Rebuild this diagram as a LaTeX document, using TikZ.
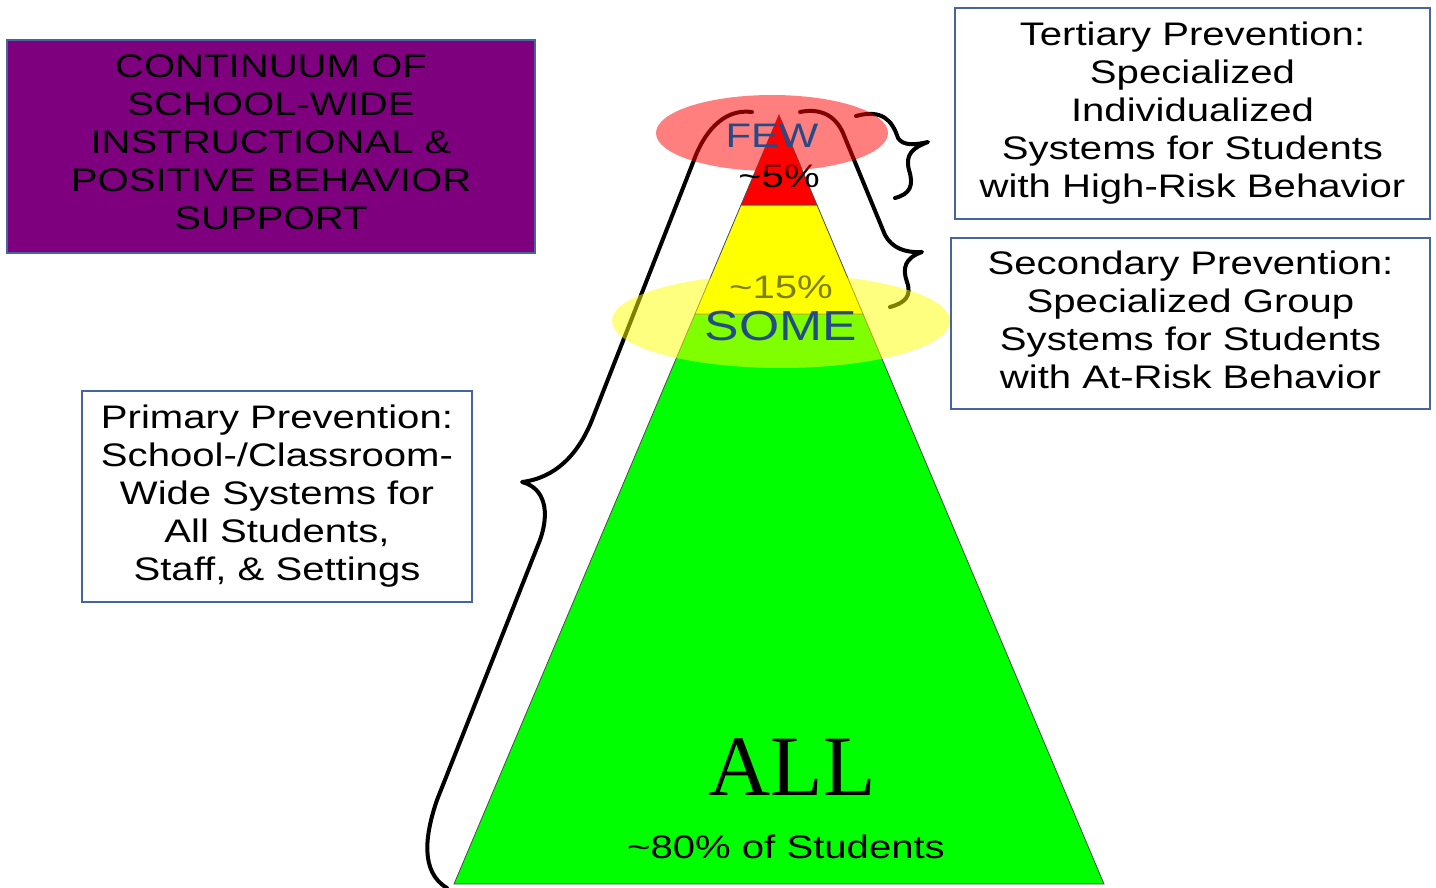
\documentclass[tikz,border=0pt]{standalone}
\usepackage{fontspec}
\setmainfont{Liberation Sans}
\newfontfamily\allserif{Liberation Serif}
\usepackage{graphicx}
\newcommand\sx[1]{\scalebox{1.23}[1]{#1}}
\definecolor{boxblue}{RGB}{70,100,160}
\definecolor{purp}{RGB}{127,0,127}
\definecolor{txtblue}{RGB}{35,75,135}
\definecolor{pgreen}{RGB}{0,255,0}
\definecolor{pyellow}{RGB}{255,255,0}
\definecolor{pred}{RGB}{255,0,0}
\tikzset{
  boxnode/.style={draw=boxblue, line width=2pt, fill=white, inner sep=0pt, align=center,
    font=\fontsize{32.6}{38}\selectfont},
  brace/.style={line width=4pt, line cap=round, line join=round},
  lbl/.style={anchor=base, inner sep=0pt, font=\fontsize{32.6}{38}\selectfont},
  tier/.style={draw=black!70, line width=0.8pt}
}
\begin{document}
\begin{tikzpicture}[x=1pt,y=-1pt]
\fill[white] (0,0) rectangle (1436,888);
\useasboundingbox (0,0) rectangle (1436,888);
% pyramid
\fill[pgreen, tier] (454,884) -- (695,314) -- (863,314) -- (1104,884) -- cycle;
\fill[pyellow, tier] (695,314) -- (741,205) -- (817,205) -- (863,314) -- cycle;
\fill[pred, tier] (741,205) -- (779,115) -- (817,205) -- cycle;
% percentages
\node[lbl] (p5) at (779,188) {\sx{\string~5\%}};
\node[lbl] (p15) at (781,298) {\sx{\string~15\%}};
% braces
\draw[brace] (752,112) .. controls (722,108) and (703,135) .. (694,160) -- (592,420)
  .. controls (578,455) and (555,478) .. (522,482)
  .. controls (545,488) and (550,512) .. (540,540) -- (437,800)
  .. controls (425,835) and (420,872) .. (447,888);
\draw[brace] (856,116) .. controls (882,109) and (892,120) .. (898,138)
  .. controls (903,146) and (915,145) .. (928,142)
  .. controls (912,148) and (905,155) .. (909,170)
  .. controls (914,186) and (910,194) .. (895,198);
\draw[brace] (800,112) .. controls (820,108) and (835,115) .. (843,133) -- (885,235)
  .. controls (892,248) and (905,253) .. (922,252)
  .. controls (905,258) and (902,268) .. (907,282)
  .. controls (912,296) and (905,303) .. (890,307);
% ellipses
\fill[pred, opacity=0.5] (772,133) ellipse [x radius=116, y radius=38];
\fill[pyellow, opacity=0.5] (781,321) ellipse [x radius=169, y radius=47];
% labels
\node[lbl, text=txtblue, font=\fontsize{34}{38}\selectfont] (few) at (772,148) {\sx{FEW}};
\node[lbl, text=txtblue, font=\fontsize{42}{46}\selectfont] (some) at (781,340) {\sx{SOME}};
\node[lbl, font=\allserif\fontsize{86}{90}\selectfont] (all) at (792,795) {ALL};
\node[lbl] (eighty) at (786,858) {\sx{\string~80\% of Students}};
% boxes
\node[boxnode, fill=purp, minimum width=528pt, minimum height=213pt, text depth=8pt] (title) at (271,146.5)
  {\sx{CONTINUUM OF}\\\sx{SCHOOL-WIDE}\\\sx{INSTRUCTIONAL \&}\\\sx{POSITIVE BEHAVIOR}\\\sx{SUPPORT}};
\node[boxnode, minimum width=475pt, minimum height=211pt] (tert) at (1192.5,113.5)
  {\sx{Tertiary Prevention:}\\\sx{Specialized}\\\sx{Individualized}\\\sx{Systems for Students}\\\sx{with High-Risk Behavior}};
\node[boxnode, minimum width=479pt, minimum height=171pt, text depth=8pt] (sec) at (1190.5,323.5)
  {\sx{Secondary Prevention:}\\\sx{Specialized Group}\\\sx{Systems for Students}\\\sx{with At-Risk Behavior}};
\node[boxnode, minimum width=390pt, minimum height=211pt] (prim) at (277,496.5)
  {\sx{Primary Prevention:}\\\sx{School-/Classroom-}\\\sx{Wide Systems for}\\\sx{All Students,}\\\sx{Staff, \& Settings}};
\end{tikzpicture}
\end{document}
